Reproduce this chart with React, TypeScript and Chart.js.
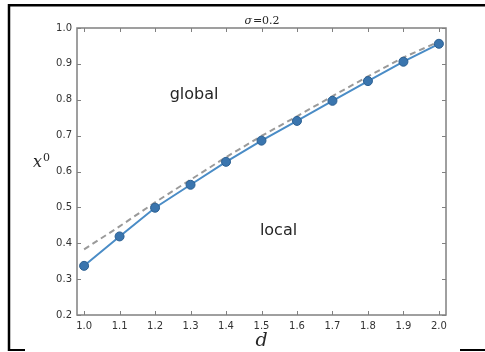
import React, { useEffect, useRef } from "react";
import { Chart, registerables } from "chart.js";

Chart.register(...registerables);

const dValues = [1.0, 1.1, 1.2, 1.3, 1.4, 1.5, 1.6, 1.7, 1.8, 1.9, 2.0];
const localX0 = [0.337, 0.419, 0.499, 0.563, 0.627, 0.686, 0.741, 0.797, 0.852, 0.906, 0.956];
const globalX0 = [0.383, 0.447, 0.514, 0.577, 0.640, 0.699, 0.754, 0.810, 0.865, 0.918, 0.962];
const xTicks = [1.0, 1.1, 1.2, 1.3, 1.4, 1.5, 1.6, 1.7, 1.8, 1.9, 2.0];
const yTicks = [0.2, 0.3, 0.4, 0.5, 0.6, 0.7, 0.8, 0.9, 1.0];
const regionLabels = ["global", "local"];
const regionLabelX = [1.31, 1.548];
const regionLabelY = [0.815, 0.435];
const titleText = ["σ", "=0.2"];
const xLabel = "d";
const yLabel = ["x", "0"];

const decor = {
  id: "decor",
  afterDatasetsDraw(chart: any) {
    const ctx = chart.ctx as CanvasRenderingContext2D;
    const { left, right, top, bottom } = chart.chartArea;
    const xs = chart.scales.x;
    const ys = chart.scales.y;
    ctx.save();
    // spines
    ctx.strokeStyle = "#808080";
    ctx.lineWidth = 1.5;
    ctx.strokeRect(left, top, right - left, bottom - top);
    // inward ticks
    ctx.lineWidth = 1;
    ctx.strokeStyle = "#808080";
    ctx.beginPath();
    xTicks.forEach((v) => {
      const px = Math.round(xs.getPixelForValue(v)) + 0.5;
      ctx.moveTo(px, bottom);
      ctx.lineTo(px, bottom - 4);
      ctx.moveTo(px, top);
      ctx.lineTo(px, top + 4);
    });
    yTicks.forEach((v) => {
      const py = Math.round(ys.getPixelForValue(v)) + 0.5;
      ctx.moveTo(left, py);
      ctx.lineTo(left + 4, py);
      ctx.moveTo(right, py);
      ctx.lineTo(right - 4, py);
    });
    ctx.stroke();
    // region labels
    ctx.fillStyle = "#262626";
    ctx.font = "16px 'DejaVu Sans'";
    ctx.textAlign = "center";
    ctx.textBaseline = "middle";
    regionLabels.forEach((t, i) => {
      ctx.fillText(t, xs.getPixelForValue(regionLabelX[i]), ys.getPixelForValue(regionLabelY[i]));
    });
    // title
    const cx = (left + right) / 2;
    ctx.textBaseline = "alphabetic";
    ctx.textAlign = "left";
    ctx.font = "italic 11px 'DejaVu Serif'";
    const w1 = ctx.measureText(titleText[0]).width;
    ctx.font = "11px 'DejaVu Serif'";
    const w2 = ctx.measureText(titleText[1]).width;
    const sx = cx - (w1 + w2) / 2;
    ctx.font = "italic 11px 'DejaVu Serif'";
    ctx.fillText(titleText[0], sx, 24);
    ctx.font = "11px 'DejaVu Serif'";
    ctx.fillText(titleText[1], sx + w1 + 1, 24);
    // x label
    ctx.font = "italic 19px 'DejaVu Serif'";
    ctx.textAlign = "center";
    ctx.fillText(xLabel, cx, 346);
    // y label
    ctx.font = "italic 16px 'DejaVu Serif'";
    ctx.textAlign = "left";
    ctx.fillText(yLabel[0], 33, 167);
    ctx.font = "11px 'DejaVu Serif'";
    ctx.fillText(yLabel[1], 43, 161);
    // outer frame
    ctx.strokeStyle = "#000";
    ctx.lineWidth = 2.5;
    ctx.beginPath();
    ctx.moveTo(9, 351);
    ctx.lineTo(9, 5.25);
    ctx.lineTo(485, 5.25);
    ctx.stroke();
    ctx.lineWidth = 2;
    ctx.beginPath();
    ctx.moveTo(8, 350);
    ctx.lineTo(25, 350);
    ctx.moveTo(460, 350);
    ctx.lineTo(485, 350);
    ctx.stroke();
    ctx.restore();
  },
};

export default function App() {
  const ref = useRef<HTMLCanvasElement | null>(null);
  useEffect(() => {
    if (!ref.current) return;
    const chart = new Chart(ref.current, {
      type: "line",
      data: {
        datasets: [
          {
            data: dValues.map((d, i) => ({ x: d, y: localX0[i] })),
            borderColor: "#4a8cc6",
            borderWidth: 2,
            backgroundColor: "#3a75ae",
            pointBackgroundColor: "#3a75ae",
            pointBorderColor: "#2b5f91",
            pointBorderWidth: 1,
            pointRadius: 4.5,
            tension: 0,
          },
          {
            data: dValues.map((d, i) => ({ x: d, y: globalX0[i] })),
            borderColor: "#9a9a9a",
            borderWidth: 2,
            borderDash: [6, 4],
            pointRadius: 0,
            tension: 0,
          },
        ],
      },
      options: {
        animation: false,
        responsive: false,
        maintainAspectRatio: false,
        events: [],
        layout: { padding: { left: 0, top: 28, right: 39, bottom: 0 } },
        plugins: { legend: { display: false }, tooltip: { enabled: false }, title: { display: false } },
        scales: {
          x: {
            type: "linear",
            min: 0.98,
            max: 2.02,
            afterBuildTicks: (s: any) => {
              s.ticks = xTicks.map((v) => ({ value: v }));
            },
            afterFit: (s: any) => {
              s.height = 37;
            },
            grid: { display: false, drawTicks: false },
            border: { display: false },
            ticks: {
              padding: 5,
              color: "#333",
              font: { family: "'DejaVu Sans'", size: 10 },
              maxRotation: 0,
              autoSkip: false,
              callback: (v: any) => Number(v).toFixed(1),
            },
          },
          y: {
            type: "linear",
            min: 0.2,
            max: 1.0,
            afterBuildTicks: (s: any) => {
              s.ticks = yTicks.map((v) => ({ value: v }));
            },
            afterFit: (s: any) => {
              s.width = 77;
            },
            grid: { display: false, drawTicks: false },
            border: { display: false },
            ticks: {
              padding: 5,
              color: "#333",
              font: { family: "'DejaVu Sans'", size: 10 },
              autoSkip: false,
              callback: (v: any) => Number(v).toFixed(1),
            },
          },
        },
      },
      plugins: [decor],
    } as any);
    return () => chart.destroy();
  }, []);
  return (
    <div style={{ position: "absolute", left: 0, top: 0, width: 485, height: 352, background: "#fff" }}>
      <canvas ref={ref} width={485} height={352} style={{ display: "block" }} />
    </div>
  );
}
